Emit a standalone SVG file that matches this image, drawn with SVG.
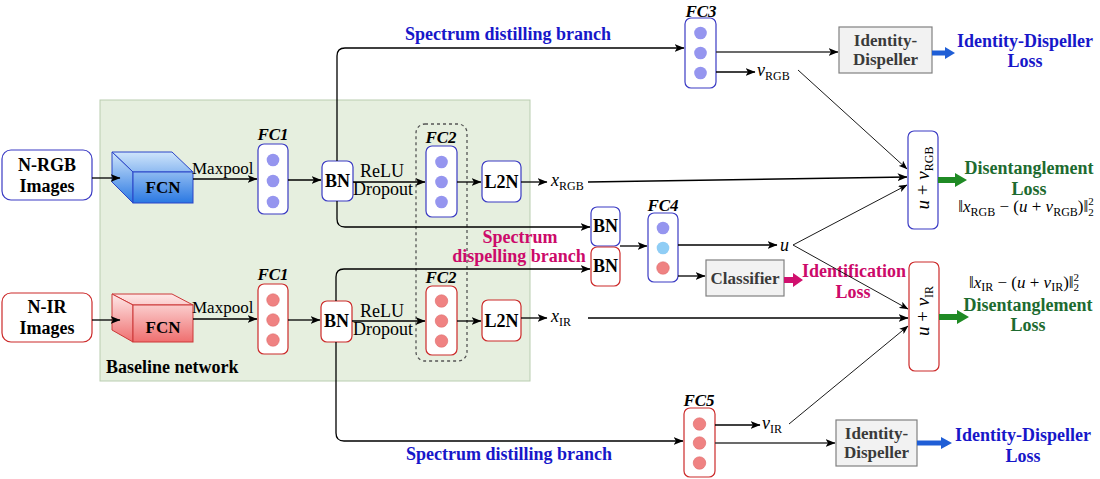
<svg xmlns="http://www.w3.org/2000/svg" width="1100" height="479" viewBox="0 0 1100 479">
<defs>
<marker id="ah" markerWidth="10" markerHeight="8" refX="9.5" refY="4" orient="auto" markerUnits="userSpaceOnUse"><path d="M0,0 L10,4 L0,8 L2.5,4 z" fill="#000"/></marker>
<marker id="ahs" markerWidth="9" markerHeight="7" refX="8.5" refY="3.5" orient="auto" markerUnits="userSpaceOnUse"><path d="M0,0 L9,3.5 L0,7 L2.2,3.5 z" fill="#000"/></marker>
<linearGradient id="gB" gradientUnits="userSpaceOnUse" x1="0" y1="152" x2="0" y2="203"><stop offset="0" stop-color="#cfe5fb"/><stop offset="1" stop-color="#2a78e2"/></linearGradient>
<linearGradient id="gR" gradientUnits="userSpaceOnUse" x1="0" y1="294" x2="0" y2="342"><stop offset="0" stop-color="#fee8e8"/><stop offset="1" stop-color="#ef6f6f"/></linearGradient>
</defs>
<style>
text{font-family:"Liberation Serif","Times New Roman","DejaVu Serif",serif;fill:#000}
.b{font-weight:bold}
.bi{font-weight:bold;font-style:italic}
.i{font-style:italic}
.s18{font-size:18px}
.s17{font-size:17px}
.c{text-anchor:middle}
.sub{font-size:12px;font-style:normal}
.bx{fill:#fff;stroke-width:1.2}
.blue{stroke:#3b3bc4}
.red{stroke:#cc2a2a}
.cb{fill:#9595ef}
.cr{fill:#ef8282;stroke:#d66;stroke-width:.5}
.gray{fill:#f2f2f2;stroke:#808080;stroke-width:1.2}
.gt{fill:#3a3a3a}
.bt{fill:#1717c9}
.gr{fill:#1d6b30}
.mg{fill:#cc0a6a}
.ln{fill:none;stroke:#000;stroke-width:1.3}
.lg{fill:none;stroke:#3a3a3a;stroke-width:1.4}
.thin{fill:none;stroke:#000;stroke-width:0.9}
</style>

<!-- Baseline background -->
<g id="baseline">
<rect x="100" y="100" width="430" height="281" fill="#e6efdf" stroke="#b9cdb0" stroke-width="1"/>
<text x="106" y="373" class="b s18">Baseline network</text>
</g>

<g id="n-rgb">
<rect x="2" y="150" width="90" height="50" rx="9" class="bx blue" stroke-width="1"/>
<text x="47" y="171" class="b s18 c">N-RGB</text>
<text x="47" y="192" class="b s18 c">Images</text>
</g>
<g id="n-ir">
<rect x="2" y="293" width="90" height="49" rx="9" class="bx red" stroke-width="1"/>
<text x="47" y="313" class="b s18 c">N-IR</text>
<text x="47" y="334" class="b s18 c">Images</text>
</g>

<g id="fcn-rgb" stroke="#2a45c8" stroke-width="1" fill="url(#gB)">
<polygon points="112,152 172,152 193,172 133,172"/>
<polygon points="112,152 133,172 133,203 112,182"/>
<rect x="133" y="172" width="60" height="31"/>
<text x="163" y="193" class="b s17 c" stroke="none">FCN</text>
</g>
<g id="fcn-ir" stroke="#cc3838" stroke-width="1" fill="url(#gR)">
<polygon points="112,294 172,294 193,305 133,305"/>
<polygon points="112,294 133,305 133,342 112,330"/>
<rect x="133" y="305" width="60" height="37"/>
<text x="163" y="333" class="b s17 c" stroke="none">FCN</text>
</g>
<text x="192" y="174" class="s17">Maxpool</text>
<text x="192" y="313" class="s17">Maxpool</text>

<g id="fc1-rgb">
<text x="273" y="140" class="bi s17 c">FC1</text>
<rect x="258" y="144" width="30" height="70" rx="6" class="bx blue"/>
<circle cx="273" cy="160" r="6.3" class="cb"/><circle cx="273" cy="181" r="6.3" class="cb"/><circle cx="273" cy="202" r="6.3" class="cb"/>
</g>
<g id="fc1-ir">
<text x="273" y="280" class="bi s17 c">FC1</text>
<rect x="258" y="284" width="30" height="70" rx="6" class="bx red"/>
<circle cx="273" cy="300" r="6.3" class="cr"/><circle cx="273" cy="320" r="6.3" class="cr"/><circle cx="273" cy="340" r="6.3" class="cr"/>
</g>

<g id="bn-rgb">
<rect x="322" y="161" width="31" height="40" rx="6" class="bx blue"/>
<text x="337.5" y="187" class="b s18 c">BN</text>
</g>
<g id="bn-ir">
<rect x="321" y="301" width="31" height="41" rx="6" class="bx red"/>
<text x="336.5" y="327" class="b s18 c">BN</text>
</g>
<text x="382" y="177" class="s18 c">ReLU</text>
<text x="383" y="195" class="s18 c">Dropout</text>
<text x="382" y="317" class="s18 c">ReLU</text>
<text x="383" y="335" class="s18 c">Dropout</text>

<g id="fc2-group">
<rect x="416" y="124" width="51" height="237" rx="9" fill="none" stroke="#555" stroke-width="1.3" stroke-dasharray="3,3"/>
</g>
<g id="fc2-rgb">
<text x="441" y="143" class="bi s17 c">FC2</text>
<rect x="426" y="146" width="31" height="71" rx="6" class="bx blue"/>
<circle cx="441.5" cy="162" r="6.3" class="cb"/><circle cx="441.5" cy="182" r="6.3" class="cb"/><circle cx="441.5" cy="202" r="6.3" class="cb"/>
</g>
<g id="fc2-ir">
<text x="441" y="283" class="bi s17 c">FC2</text>
<rect x="426" y="286" width="31" height="69" rx="6" class="bx red"/>
<circle cx="441.5" cy="301" r="6.3" class="cr"/><circle cx="441.5" cy="321" r="6.3" class="cr"/><circle cx="441.5" cy="341" r="6.3" class="cr"/>
</g>

<g id="l2n-rgb">
<rect x="482" y="161" width="39" height="41" rx="6" class="bx blue"/>
<text x="501.5" y="188" class="b s18 c">L2N</text>
</g>
<g id="l2n-ir">
<rect x="482" y="300" width="39" height="41" rx="6" class="bx red"/>
<text x="501.5" y="327" class="b s18 c">L2N</text>
</g>

<text x="551" y="186" class="i s18">x<tspan class="sub" dy="4">RGB</tspan></text>
<text x="551" y="322" class="i s18">x<tspan class="sub" dy="4">IR</tspan></text>

<g id="fc3">
<text x="701" y="17" class="bi s17 c">FC3</text>
<rect x="685" y="18" width="31" height="70" rx="6" class="bx blue"/>
<circle cx="700.5" cy="33" r="6.3" class="cb"/><circle cx="700.5" cy="53" r="6.3" class="cb"/><circle cx="700.5" cy="73" r="6.3" class="cb"/>
</g>
<g id="fc5">
<text x="699" y="406" class="bi s17 c">FC5</text>
<rect x="684" y="408" width="31" height="69" rx="6" class="bx red"/>
<circle cx="699.5" cy="424" r="6.3" class="cr"/><circle cx="699.5" cy="443" r="6.3" class="cr"/><circle cx="699.5" cy="463" r="6.3" class="cr"/>
</g>
<text x="757" y="76" class="i s18">v<tspan class="sub" dy="4">RGB</tspan></text>
<text x="762" y="429" class="i s18">v<tspan class="sub" dy="4">IR</tspan></text>

<g id="bn-mid-rgb">
<rect x="591" y="207" width="29" height="39" rx="6" class="bx blue"/>
<text x="605.5" y="232" class="b s18 c">BN</text>
</g>
<g id="bn-mid-ir">
<rect x="591" y="247" width="29" height="39" rx="6" class="bx red"/>
<text x="605.5" y="272" class="b s18 c">BN</text>
</g>

<g id="fc4">
<text x="663" y="211" class="bi s17 c">FC4</text>
<rect x="648" y="213" width="30" height="69" rx="6" class="bx blue"/>
<circle cx="663" cy="228" r="6.3" class="cb"/><circle cx="663" cy="248" r="6.3" fill="#8fcdf5"/><circle cx="663" cy="268" r="6.3" class="cr"/>
</g>
<text x="780" y="251" class="i s18">u</text>

<g id="classifier">
<rect x="706" y="260" width="78" height="36" class="gray"/>
<text x="745" y="284" class="b s17 c gt">Classifier</text>
</g>

<g id="id-top">
<rect x="839" y="27" width="93" height="46" class="gray"/>
<text x="885.5" y="46" class="b s17 c gt">Identity-</text>
<text x="885.5" y="65" class="b s17 c gt">Dispeller</text>
</g>
<g id="id-bottom">
<rect x="836" y="420" width="81" height="46" class="gray"/>
<text x="876.5" y="439" class="b s17 c gt">Identity-</text>
<text x="876.5" y="458" class="b s17 c gt">Dispeller</text>
</g>

<g id="box-rgb">
<rect x="908" y="131" width="30" height="98" rx="6" class="bx blue"/>
<text transform="translate(929,178) rotate(-90)" class="c" font-size="19"><tspan class="i">u</tspan> + <tspan class="i">v</tspan><tspan class="sub" dy="4">RGB</tspan></text>
</g>
<g id="box-ir">
<rect x="909" y="262" width="30" height="109" rx="6" class="bx red"/>
<text transform="translate(929,311) rotate(-90)" class="c" font-size="19"><tspan class="i">u</tspan> + <tspan class="i">v</tspan><tspan class="sub" dy="4">IR</tspan></text>
</g>

<!-- loss labels -->
<text x="1025" y="47" class="b s18 c bt">Identity-Dispeller</text>
<text x="1025" y="67" class="b s18 c bt">Loss</text>
<text x="1023" y="441" class="b s18 c bt">Identity-Dispeller</text>
<text x="1023" y="462" class="b s18 c bt">Loss</text>
<text x="1029" y="174" class="b s18 c gr">Disentanglement</text>
<text x="1029" y="195" class="b s18 c gr">Loss</text>
<text x="1028" y="311" class="b s18 c gr">Disentanglement</text>
<text x="1028" y="331" class="b s18 c gr">Loss</text>
<text x="1026" y="212" class="c" font-size="17">‖<tspan class="i">x</tspan><tspan class="sub" dy="4">RGB</tspan><tspan dy="-4"> − (</tspan><tspan class="i">u</tspan> + <tspan class="i">v</tspan><tspan class="sub" dy="4">RGB</tspan><tspan dy="-4">)‖</tspan><tspan font-size="11" dy="-7">2</tspan><tspan font-size="11" dx="-5.5" dy="11">2</tspan></text>
<text x="1024" y="288" class="c" font-size="17">‖<tspan class="i">x</tspan><tspan class="sub" dy="3">IR</tspan><tspan dy="-3"> − (</tspan><tspan class="i">u</tspan> + <tspan class="i">v</tspan><tspan class="sub" dy="3">IR</tspan><tspan dy="-3">)‖</tspan><tspan font-size="11" dy="-7">2</tspan><tspan font-size="11" dx="-5.5" dy="10">2</tspan></text>
<text x="854" y="277" class="b s18 c mg">Identification</text>
<text x="853" y="298" class="b s18 c mg">Loss</text>
<text x="508" y="40" class="b s18 c bt">Spectrum distilling branch</text>
<text x="509" y="460" class="b s18 c bt">Spectrum distilling branch</text>
<text x="520" y="243" class="b s18 c mg">Spectrum</text>
<text x="519" y="262" class="b s18 c mg">dispelling branch</text>

<g id="connectors">
<line x1="92" y1="178" x2="120" y2="178" class="ln" marker-end="url(#ah)"/>
<line x1="92" y1="320" x2="120" y2="320" class="ln" marker-end="url(#ah)"/>
<line x1="193" y1="179" x2="257" y2="179" class="ln" marker-end="url(#ah)"/>
<line x1="193" y1="319" x2="257" y2="319" class="ln" marker-end="url(#ah)"/>
<line x1="288" y1="180" x2="321" y2="180" class="ln" marker-end="url(#ah)"/>
<line x1="288" y1="320" x2="320" y2="320" class="ln" marker-end="url(#ah)"/>
<line x1="353" y1="182" x2="425" y2="182" class="ln" marker-end="url(#ah)"/>
<line x1="352" y1="321" x2="425" y2="321" class="ln" marker-end="url(#ah)"/>
<line x1="457" y1="182" x2="481" y2="182" class="ln" marker-end="url(#ah)"/>
<line x1="457" y1="321" x2="481" y2="321" class="ln" marker-end="url(#ah)"/>
<line x1="521" y1="182" x2="547" y2="182" class="ln" marker-end="url(#ah)"/>
<line x1="521" y1="318" x2="547" y2="318" class="ln" marker-end="url(#ah)"/>
<line x1="588" y1="182" x2="907" y2="177" class="ln" marker-end="url(#ah)"/>
<line x1="588" y1="318" x2="908" y2="318" class="ln" marker-end="url(#ah)"/>
<path d="M337,161 V56 Q337,48 345,48 H684" class="ln" marker-end="url(#ah)"/>
<path d="M337,201 V219 Q337,227 345,227 H590" class="ln" marker-end="url(#ah)"/>
<path d="M336,301 V277 Q336,269 344,269 H590" class="ln" marker-end="url(#ah)"/>
<path d="M336,342 V433 Q336,441 344,441 H683" class="ln" marker-end="url(#ah)"/>
<line x1="716" y1="52" x2="838" y2="52" class="lg" marker-end="url(#ah)"/>
<line x1="716" y1="72" x2="755" y2="72" class="ln" marker-end="url(#ah)"/>
<line x1="798" y1="70" x2="907" y2="169" class="thin" marker-end="url(#ahs)"/>
<line x1="620" y1="246" x2="647" y2="246" class="ln" marker-end="url(#ah)"/>
<line x1="678" y1="245" x2="777" y2="245" class="ln" marker-end="url(#ah)"/>
<line x1="793" y1="245" x2="907" y2="185" class="thin" marker-end="url(#ahs)"/>
<line x1="793" y1="245" x2="908" y2="309" class="thin" marker-end="url(#ahs)"/>
<line x1="678" y1="276" x2="705" y2="276" class="ln" marker-end="url(#ah)"/>
<line x1="715" y1="425" x2="760" y2="425" class="ln" marker-end="url(#ah)"/>
<line x1="715" y1="443" x2="835" y2="443" class="lg" marker-end="url(#ah)"/>
<line x1="789" y1="424" x2="908" y2="326" class="thin" marker-end="url(#ahs)"/>
<!-- thick output arrows -->
<polygon points="932,50.5 945,50.5 945,47 955,53 945,59 945,55.5 932,55.5" fill="#1f5ed6"/>
<polygon points="917,440.5 941,440.5 941,437 952,443 941,449 941,445.5 917,445.5" fill="#1f5ed6"/>
<polygon points="938,177 955,177 955,173 967,180 955,187 955,183 938,183" fill="#1f8a24"/>
<polygon points="939,314 957,314 957,310 969,317 957,324 957,320 939,320" fill="#1f8a24"/>
<polygon points="784,277 793,277 793,273 803,280 793,287 793,283 784,283" fill="#d0106e"/>
</g>
</svg>
